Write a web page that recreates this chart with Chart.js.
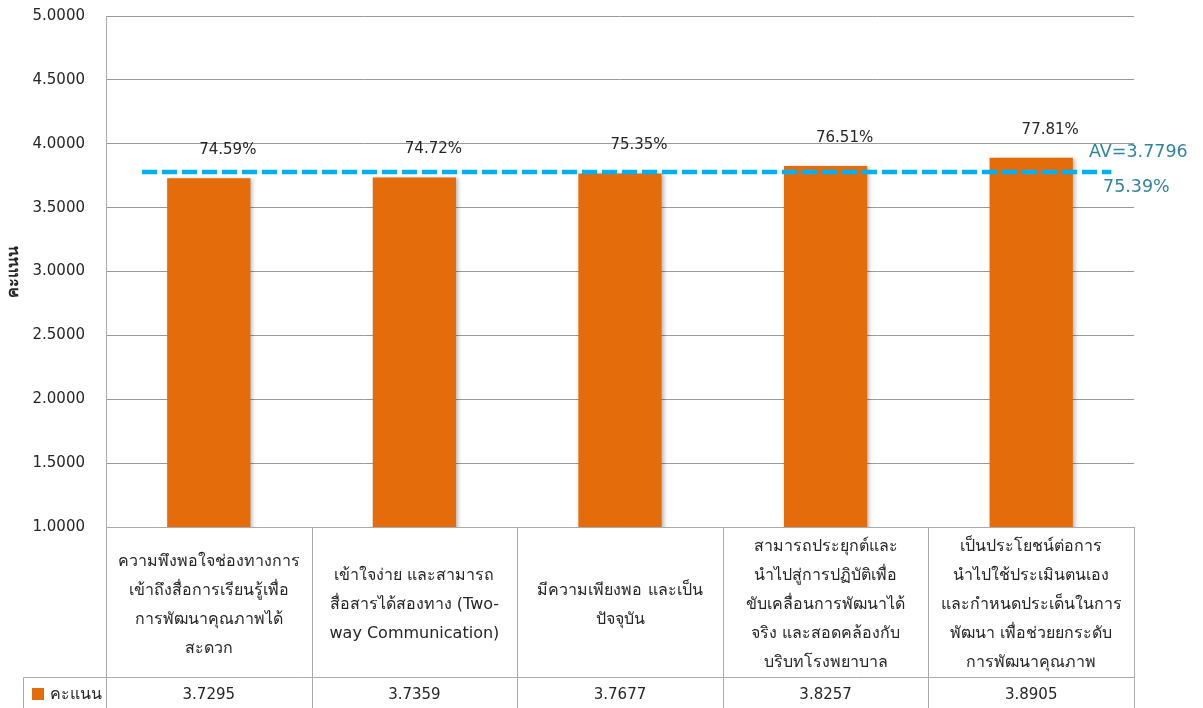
<!DOCTYPE html>
<html>
<head>
<meta charset="utf-8">
<script src="https://cdn.jsdelivr.net/npm/chart.js@4.4.1/dist/chart.umd.min.js"></script>
<style>
  html, body { margin: 0; padding: 0; background: #ffffff; overflow: hidden; }
  #wrap { width: 1203px; height: 708px; }
</style>
</head>
<body>
<div id="wrap"><canvas id="chart" width="1203" height="708"></canvas></div>
<script>
// ---- data ----
const categories = [
  ['ความพึงพอใจช่องทางการ', 'เข้าถึงสื่อการเรียนรู้เพื่อ', 'การพัฒนาคุณภาพได้', 'สะดวก'],
  ['เข้าใจง่าย และสามารถ', 'สื่อสารได้สองทาง (Two-', 'way Communication)'],
  ['มีความเพียงพอ และเป็น', 'ปัจจุบัน'],
  ['สามารถประยุกต์และ', 'นำไปสู่การปฏิบัติเพื่อ', 'ขับเคลื่อนการพัฒนาได้', 'จริง และสอดคล้องกับ', 'บริบทโรงพยาบาล'],
  ['เป็นประโยชน์ต่อการ', 'นำไปใช้ประเมินตนเอง', 'และกำหนดประเด็นในการ', 'พัฒนา เพื่อช่วยยกระดับ', 'การพัฒนาคุณภาพ']
];
const seriesName = 'คะแนน';
const scores = [3.7295, 3.7359, 3.7677, 3.8257, 3.8905];
const percentLabels = ['74.59%', '74.72%', '75.35%', '76.51%', '77.81%'];
const averageScore = 3.7796;
const averageLabel = 'AV=3.7796';
const averagePercentLabel = '75.39%';
const yAxisTitle = 'คะแนน';
const yTickMin = 1;
const yTickMax = 5;
const yTickStep = 0.5;
const yTickDecimals = 4;

// ---- styling ----
const FONT = "Tahoma, 'DejaVu Sans', 'Noto Sans', sans-serif";
const BAR_COLOR = '#E46C0A';
const AVG_COLOR = '#00B0F0';
const AVG_TEXT = '#31849B';
const TEXT = '#262626';
const GRID = '#9a9a9a';
const TABLE_LINE = '#ababab';
// horizontal reach of the average line, in category-index units
const avgLineFrom = -0.325;
const avgLineTo = 4.39;

const tableHeight = 181;
const categoryRowHeight = 150;
const lineStep = 29;

// soft drop shadow under the bars
const barShadow = {
  id: 'barShadow',
  beforeDatasetDraw(chart, args) {
    if (args.meta.type !== 'bar') return;
    const ctx = chart.ctx;
    ctx.save();
    ctx.shadowColor = 'rgba(0,0,0,0.28)';
    ctx.shadowBlur = 4;
    ctx.shadowOffsetX = 2;
    ctx.shadowOffsetY = 1;
  },
  afterDatasetDraw(chart, args) {
    if (args.meta.type !== 'bar') return;
    chart.ctx.restore();
  }
};

// percentage labels over the bars and the average captions
const valueLabels = {
  id: 'valueLabels',
  afterDatasetsDraw(chart) {
    const ctx = chart.ctx;
    const meta = chart.getDatasetMeta(1);
    ctx.save();
    ctx.font = '15px ' + FONT;
    ctx.fillStyle = TEXT;
    ctx.textAlign = 'center';
    ctx.textBaseline = 'middle';
    meta.data.forEach((bar, i) => {
      ctx.fillText(percentLabels[i], bar.x + 19, bar.y - 28);
    });
    const yAvg = chart.scales.y.getPixelForValue(averageScore);
    const right = chart.chartArea.right;
    ctx.font = '17.5px ' + FONT;
    ctx.fillStyle = AVG_TEXT;
    ctx.textAlign = 'left';
    ctx.fillText(averageLabel, right - 45, yAvg - 19);
    ctx.fillText(averagePercentLabel, right - 31, yAvg + 16);
    ctx.restore();
  }
};

// data table under the plot: category names, legend key and values
const dataTable = {
  id: 'dataTable',
  afterDraw(chart) {
    const ctx = chart.ctx;
    const xs = chart.scales.x;
    const area = chart.chartArea;
    const n = categories.length;
    const cellW = (area.right - area.left) / n;
    const top = area.bottom;
    const split = top + categoryRowHeight;
    const bottom = chart.height + 2;
    const keyLeft = 23;
    const px = v => Math.round(v) + 0.5;

    ctx.save();
    ctx.strokeStyle = TABLE_LINE;
    ctx.lineWidth = 1;
    ctx.beginPath();
    for (let k = 0; k <= n; k++) {
      const x = px(area.left + k * cellW);
      ctx.moveTo(x, top);
      ctx.lineTo(x, bottom);
    }
    ctx.moveTo(px(keyLeft), px(split));
    ctx.lineTo(px(keyLeft), bottom);
    ctx.moveTo(px(keyLeft), px(split));
    ctx.lineTo(px(area.right), px(split));
    ctx.moveTo(px(area.left), px(top));
    ctx.lineTo(px(area.right), px(top));
    ctx.stroke();

    ctx.fillStyle = TEXT;
    ctx.textAlign = 'center';
    ctx.textBaseline = 'middle';
    ctx.font = '16px ' + FONT;
    const midCat = (top + split) / 2 + 3;
    categories.forEach((lines, i) => {
      const cx = xs.getPixelForValue(i);
      const y0 = midCat - (lines.length - 1) * lineStep / 2;
      lines.forEach((t, j) => ctx.fillText(t, cx, y0 + j * lineStep));
    });

    ctx.font = '15px ' + FONT;
    const valY = split + 18;
    scores.forEach((v, i) => {
      ctx.fillText(v.toFixed(yTickDecimals), xs.getPixelForValue(i), valY);
    });

    ctx.fillStyle = BAR_COLOR;
    ctx.fillRect(32, valY - 7, 12, 12);
    ctx.fillStyle = TEXT;
    ctx.textAlign = 'left';
    ctx.font = '16px ' + FONT;
    ctx.fillText(seriesName, 50, valY);
    ctx.restore();
  }
};

new Chart(document.getElementById('chart'), {
  type: 'bar',
  data: {
    labels: categories,
    datasets: [
      {
        type: 'line',
        label: 'AV',
        xAxisID: 'xAvg',
        data: [{ x: avgLineFrom, y: averageScore }, { x: avgLineTo, y: averageScore }],
        borderColor: AVG_COLOR,
        borderWidth: 4.5,
        borderDash: [15, 5],
        borderCapStyle: 'butt',
        pointRadius: 0,
        fill: false,
        order: 0
      },
      {
        type: 'bar',
        label: seriesName,
        data: scores,
        backgroundColor: BAR_COLOR,
        borderWidth: 0,
        grouped: false,
        categoryPercentage: 0.405,
        barPercentage: 1,
        order: 1
      }
    ]
  },
  options: {
    responsive: false,
    devicePixelRatio: 1,
    animation: false,
    layout: { padding: { left: 0, right: 69, top: 16, bottom: tableHeight } },
    plugins: {
      legend: { display: false },
      tooltip: { enabled: false }
    },
    scales: {
      x: {
        type: 'category',
        display: false,
        offset: true
      },
      xAvg: {
        type: 'linear',
        display: false,
        offset: false,
        min: -0.5,
        max: categories.length - 0.5
      },
      y: {
        min: yTickMin,
        max: yTickMax,
        afterFit(scale) {
          scale.width = 106;
          scale.paddingTop = 0;
          scale.paddingBottom = 0;
        },
        ticks: {
          stepSize: yTickStep,
          padding: 21,
          color: TEXT,
          font: { family: FONT, size: 15 },
          callback: v => Number(v).toFixed(yTickDecimals)
        },
        grid: { color: GRID, drawTicks: false, lineWidth: 1 },
        border: { color: TABLE_LINE, width: 1 },
        title: {
          display: true,
          text: yAxisTitle,
          color: TEXT,
          font: { family: FONT, size: 16, weight: 'bold' },
          padding: { top: 4, bottom: 0 }
        }
      }
    }
  },
  plugins: [barShadow, valueLabels, dataTable]
});
</script>
</body>
</html>
